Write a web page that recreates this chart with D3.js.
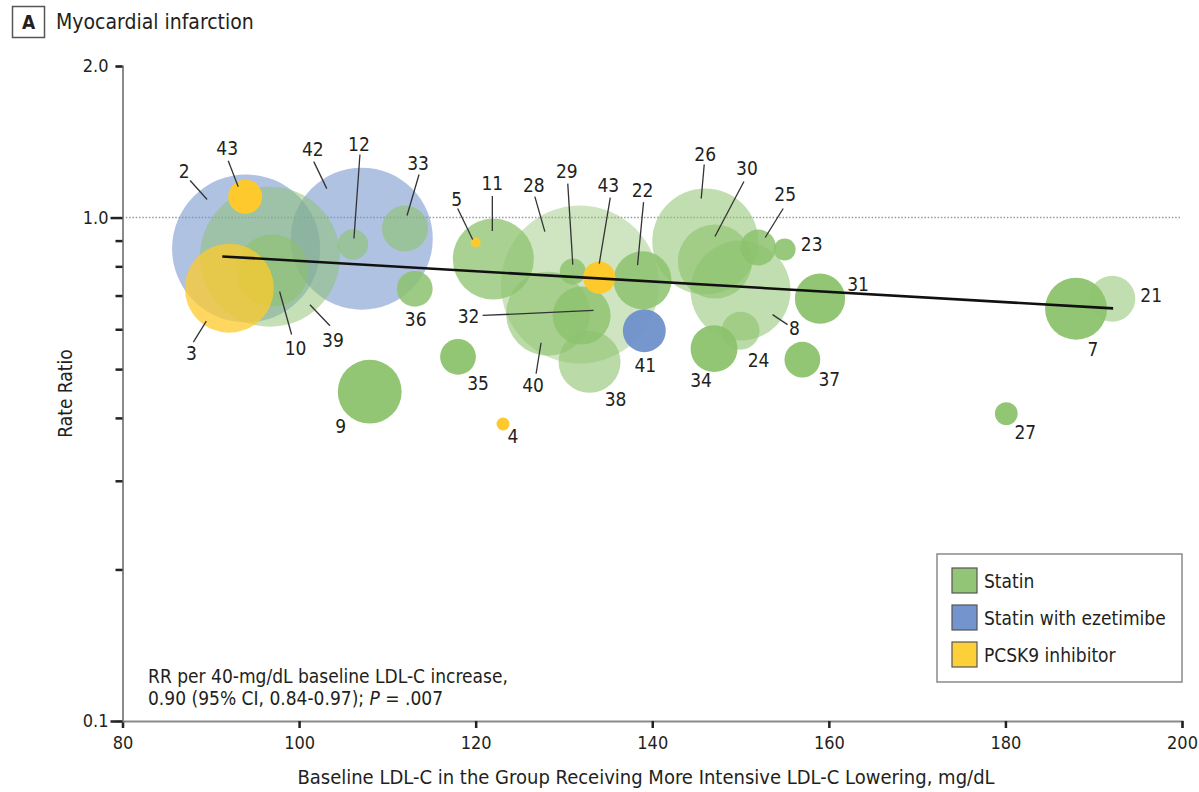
<!DOCTYPE html>
<html>
<head>
<meta charset="utf-8">
<script src="https://cdn.jsdelivr.net/npm/d3@7"></script>
<style>
  body { margin: 0; background: #fff; }
  svg text { font-family: "Liberation Sans Narrow", "DejaVu Sans Condensed", "Roboto Condensed", "Liberation Sans", sans-serif; fill: #231f20; }
</style>
</head>
<body>
<div id="chart"></div>
<script>
// trial data: id label, baseline LDL-C (mg/dL), rate ratio, relative weight, drug class
const trialIds   = ['2', '43a', '3', '10', '39', '42', '12', '33', '36', '5', '11', '28', '29', '43b', '22', '41', '32', '40', '38', '35', '26', '30', '8', '24', '34', '25', '23', '31', '37', '27', '7', '21', '9', '4'];
const trialLabel = ['2', '43', '3', '10', '39', '42', '12', '33', '36', '5', '11', '28', '29', '43', '22', '41', '32', '40', '38', '35', '26', '30', '8', '24', '34', '25', '23', '31', '37', '27', '7', '21', '9', '4'];
const baselineLdl = [94.0, 93.9, 92.1, 97.0, 96.7, 107.1, 106.1, 112.0, 113.1, 120.0, 122.0, 131.8, 131.0, 134.0, 138.9, 139.1, 132.0, 128.2, 132.9, 118.0, 146.0, 147.1, 150.0, 150.0, 147.0, 152.0, 155.0, 159.0, 157.0, 180.1, 188.0, 192.1, 108.0, 123.1];
const rateRatio  = [0.868, 1.10, 0.724, 0.785, 0.836, 0.908, 0.884, 0.951, 0.722, 0.892, 0.827, 0.736, 0.781, 0.760, 0.751, 0.596, 0.639, 0.644, 0.517, 0.529, 0.896, 0.818, 0.716, 0.596, 0.549, 0.872, 0.864, 0.690, 0.522, 0.408, 0.659, 0.690, 0.451, 0.389];
const weight     = [54.8, 2.9, 19.8, 13.0, 49.0, 50.4, 2.3, 5.3, 3.2, 0.25, 16.4, 62.4, 1.7, 2.6, 8.4, 4.6, 8.4, 17.6, 9.6, 3.2, 28.1, 13.7, 25.0, 3.6, 5.5, 3.2, 1.2, 6.3, 3.2, 1.3, 9.6, 5.3, 10.2, 0.42];
const drugClass  = ['ezetimibe', 'pcsk9', 'pcsk9', 'statin', 'statin', 'ezetimibe', 'statin', 'statin', 'statin', 'pcsk9', 'statin', 'statin', 'statin', 'pcsk9', 'statin', 'ezetimibe', 'statin', 'statin', 'statin', 'statin', 'statin', 'statin', 'statin', 'statin', 'statin', 'statin', 'statin', 'statin', 'statin', 'statin', 'statin', 'statin', 'statin', 'pcsk9'];

// meta-regression line
const fitLdl = [91.3, 192.2];
const fitRr  = [0.837, 0.660];

const legendClasses = ['statin', 'ezetimibe', 'pcsk9'];
const legendNames   = ['Statin', 'Statin with ezetimibe', 'PCSK9 inhibitor'];

const xTicks = [80, 100, 120, 140, 160, 180, 200];
const yMajorTicks = [0.1, 1.0, 2.0];
const yMinorTicks = [0.2, 0.3, 0.4, 0.5, 0.6, 0.7, 0.8, 0.9];

// ---- style / layout (not data) ----
const colors = { statin: '#8cc26d', ezetimibe: '#6f90cb', pcsk9: '#fdc92c' };
const swatch = { statin: '#93c577', ezetimibe: '#7394cc', pcsk9: '#fdd03a' };
const opacityOf = {
  '2': 0.55, '42': 0.55, '41': 0.95,
  '43a': 1, '43b': 1, '5': 1, '4': 1, '3': 0.75,
  '39': 0.5, '10': 0.6, '12': 0.6, '33': 0.6, '36': 0.85,
  '11': 0.75, '28': 0.42, '29': 0.8, '22': 0.85, '32': 0.8, '40': 0.6, '38': 0.6,
  '35': 0.95, '26': 0.55, '30': 0.6, '8': 0.55, '24': 0.6, '34': 0.95, '25': 0.85,
  '23': 0.9, '31': 0.95, '37': 0.95, '27': 0.95, '7': 0.95, '21': 0.55, '9': 0.95
};
// label offset from bubble centre [dx, dy] and optional leader [x1, y1, x2, y2]
const labelPos = {
  '43a': [-18, -49, [-17, -36, -7, -10]],
  '2':   [-62, -78, [-56, -68, -39, -49]],
  '42':  [-49, -90, [-48, -77, -35, -50]],
  '12':  [6, -101, [7, -90, 1, -6]],
  '33':  [13, -66, [14, -54, 2, -13]],
  '36':  [1, 30],
  '3':   [-38, 65, [-36, 54, -23, 33]],
  '10':  [23, 78, [19, 64, 7, 21]],
  '39':  [63, 83, [60, 69, 40, 48]],
  '5':   [-19, -44, [-18, -34, -3, -3]],
  '11':  [-1, -76, [-1, -63, -1, -28]],
  '28':  [-46, -100, [-45, -88, -35, -53]],
  '29':  [-6, -101, [-5, -88, 0, -7]],
  '43b': [9, -93, [11, -80, 0, -14]],
  '22':  [0, -90, [1, -78, -5, -15]],
  '41':  [1, 34],
  '32':  [-113, 1, [-99, 0, 12, -5]],
  '40':  [-15, 71, [-12, 60, -7, 29]],
  '38':  [26, 37],
  '35':  [20, 26],
  '26':  [0, -88, [-1, -77, -4, -43]],
  '30':  [32, -93, [29, -80, 0, -25]],
  '8':   [54, 37, [32, 24, 47, 34]],
  '24':  [18, 29],
  '34':  [-13, 31],
  '25':  [27, -53, [25, -39, 7, -10]],
  '23':  [27, -6],
  '31':  [38, -15],
  '37':  [27, 19],
  '27':  [19, 18],
  '7':   [17, 40],
  '21':  [39, -4],
  '9':   [-29, 34],
  '4':   [10, 12]
};

const W = 1199, H = 792;
const plot = { left: 122.5, right: 1182, top: 66, bottom: 721 };

const svg = d3.select('#chart').append('svg')
  .attr('width', W).attr('height', H);

const x = d3.scaleLinear().domain([80, 200]).range([plot.left, plot.right]);
const y = d3.scaleLog().domain([0.1, 2.0]).range([plot.bottom, plot.top]);
const r = d3.scaleSqrt().domain([0, 1]).range([0, 10]);

const trials = trialIds.map((id, i) => ({
  id: id, label: trialLabel[i], ldl: baselineLdl[i], rr: rateRatio[i], w: weight[i], cls: drugClass[i]
}));

// panel title
svg.append('rect').attr('x', 12.5).attr('y', 6.5).attr('width', 32).attr('height', 31)
  .attr('fill', '#fff').attr('stroke', '#555').attr('stroke-width', 1.5);
svg.append('text').attr('x', 28.5).attr('y', 29).attr('text-anchor', 'middle')
  .style('font-size', '19px').style('font-weight', 'bold').text('A');
svg.append('text').attr('x', 56).attr('y', 29)
  .style('font-size', '21px').text('Myocardial infarction');

// reference line at RR = 1
svg.append('line')
  .attr('x1', plot.left).attr('x2', plot.right - 2)
  .attr('y1', y(1)).attr('y2', y(1))
  .attr('stroke', '#9a9a9a').attr('stroke-width', 1.5)
  .attr('stroke-dasharray', '1.5,1.8');

// bubbles: green/blue by size, yellow on top
const order = trials.slice().sort((a, b) => {
  const ay = a.cls === 'pcsk9' ? 1 : 0, by = b.cls === 'pcsk9' ? 1 : 0;
  if (ay !== by) return ay - by;
  return b.w - a.w;
});
svg.append('g').selectAll('circle')
  .data(order)
  .enter()
  .append('circle')
  .attr('cx', d => x(d.ldl))
  .attr('cy', d => y(d.rr))
  .attr('r', d => r(d.w))
  .attr('fill', d => colors[d.cls])
  .attr('fill-opacity', d => opacityOf[d.id]);

// regression line
svg.append('line')
  .attr('x1', x(fitLdl[0])).attr('y1', y(fitRr[0]))
  .attr('x2', x(fitLdl[1])).attr('y2', y(fitRr[1]))
  .attr('stroke', '#111').attr('stroke-width', 2.6);

// leaders and labels
const lab = svg.append('g');
trials.forEach(d => {
  const p = labelPos[d.id];
  const cx = x(d.ldl), cy = y(d.rr);
  if (p[2]) {
    lab.append('line')
      .attr('x1', cx + p[2][0]).attr('y1', cy + p[2][1])
      .attr('x2', cx + p[2][2]).attr('y2', cy + p[2][3])
      .attr('stroke', '#333').attr('stroke-width', 1.3);
  }
  lab.append('text')
    .attr('x', cx + p[0]).attr('y', cy + p[1])
    .attr('text-anchor', 'middle')
    .attr('dominant-baseline', 'central')
    .style('font-size', '19px')
    .text(d.label);
});

// axes
const xAxis = svg.append('g')
  .attr('transform', `translate(0,${plot.bottom})`)
  .call(d3.axisBottom(x).tickValues(xTicks).tickSize(7).tickPadding(6).tickFormat(d3.format('d')));
const yAxis = svg.append('g')
  .attr('transform', `translate(${plot.left},0)`)
  .call(d3.axisLeft(y).tickValues(yMajorTicks.concat(yMinorTicks)).tickSize(7).tickPadding(3)
    .tickFormat(d => yMajorTicks.includes(d) ? d3.format('.1f')(d) : ''));

[xAxis, yAxis].forEach(g => {
  g.select('.domain').attr('stroke', '#8a8a8a').attr('stroke-width', 2);
  g.selectAll('.tick line').attr('stroke', '#222').attr('stroke-width', 2.5);
  g.selectAll('.tick text').style('font-size', '18px').attr('fill', '#231f20');
});
yAxis.selectAll('.tick').filter(d => d === 1 || d === 0.1).select('line').attr('x2', -12);
yAxis.selectAll('.tick text').attr('x', -14);
xAxis.selectAll('.tick text').attr('dy', '0.85em');

// axis titles
svg.append('text')
  .attr('transform', `translate(72,${(plot.top + plot.bottom) / 2}) rotate(-90)`)
  .attr('text-anchor', 'middle')
  .style('font-size', '19px')
  .text('Rate Ratio');
svg.append('text')
  .attr('x', 646).attr('y', 784)
  .attr('text-anchor', 'middle')
  .style('font-size', '20px')
  .text('Baseline LDL-C in the Group Receiving More Intensive LDL-C Lowering, mg/dL');

// annotation
const note = svg.append('text').attr('x', 148).style('font-size', '19px');
note.append('tspan').attr('x', 148).attr('y', 683).text('RR per 40-mg/dL baseline LDL-C increase,');
const l2 = note.append('tspan').attr('x', 148).attr('y', 705);
l2.append('tspan').text('0.90 (95% CI, 0.84-0.97); ');
l2.append('tspan').style('font-style', 'italic').text('P');
l2.append('tspan').text(' = .007');

// legend
const lg = svg.append('g').attr('transform', 'translate(937,554)');
lg.append('rect').attr('width', 245).attr('height', 128)
  .attr('fill', '#fff').attr('stroke', '#8a8a8a').attr('stroke-width', 1.5);
legendClasses.forEach((c, i) => {
  const row = lg.append('g').attr('transform', `translate(15,${14 + i * 37})`);
  row.append('rect').attr('width', 25).attr('height', 25)
    .attr('fill', swatch[c]).attr('stroke', '#555').attr('stroke-width', 1.2);
  row.append('text').attr('x', 32).attr('y', 13)
    .attr('dominant-baseline', 'central')
    .style('font-size', '19px')
    .text(legendNames[i]);
});
</script>
</body>
</html>
